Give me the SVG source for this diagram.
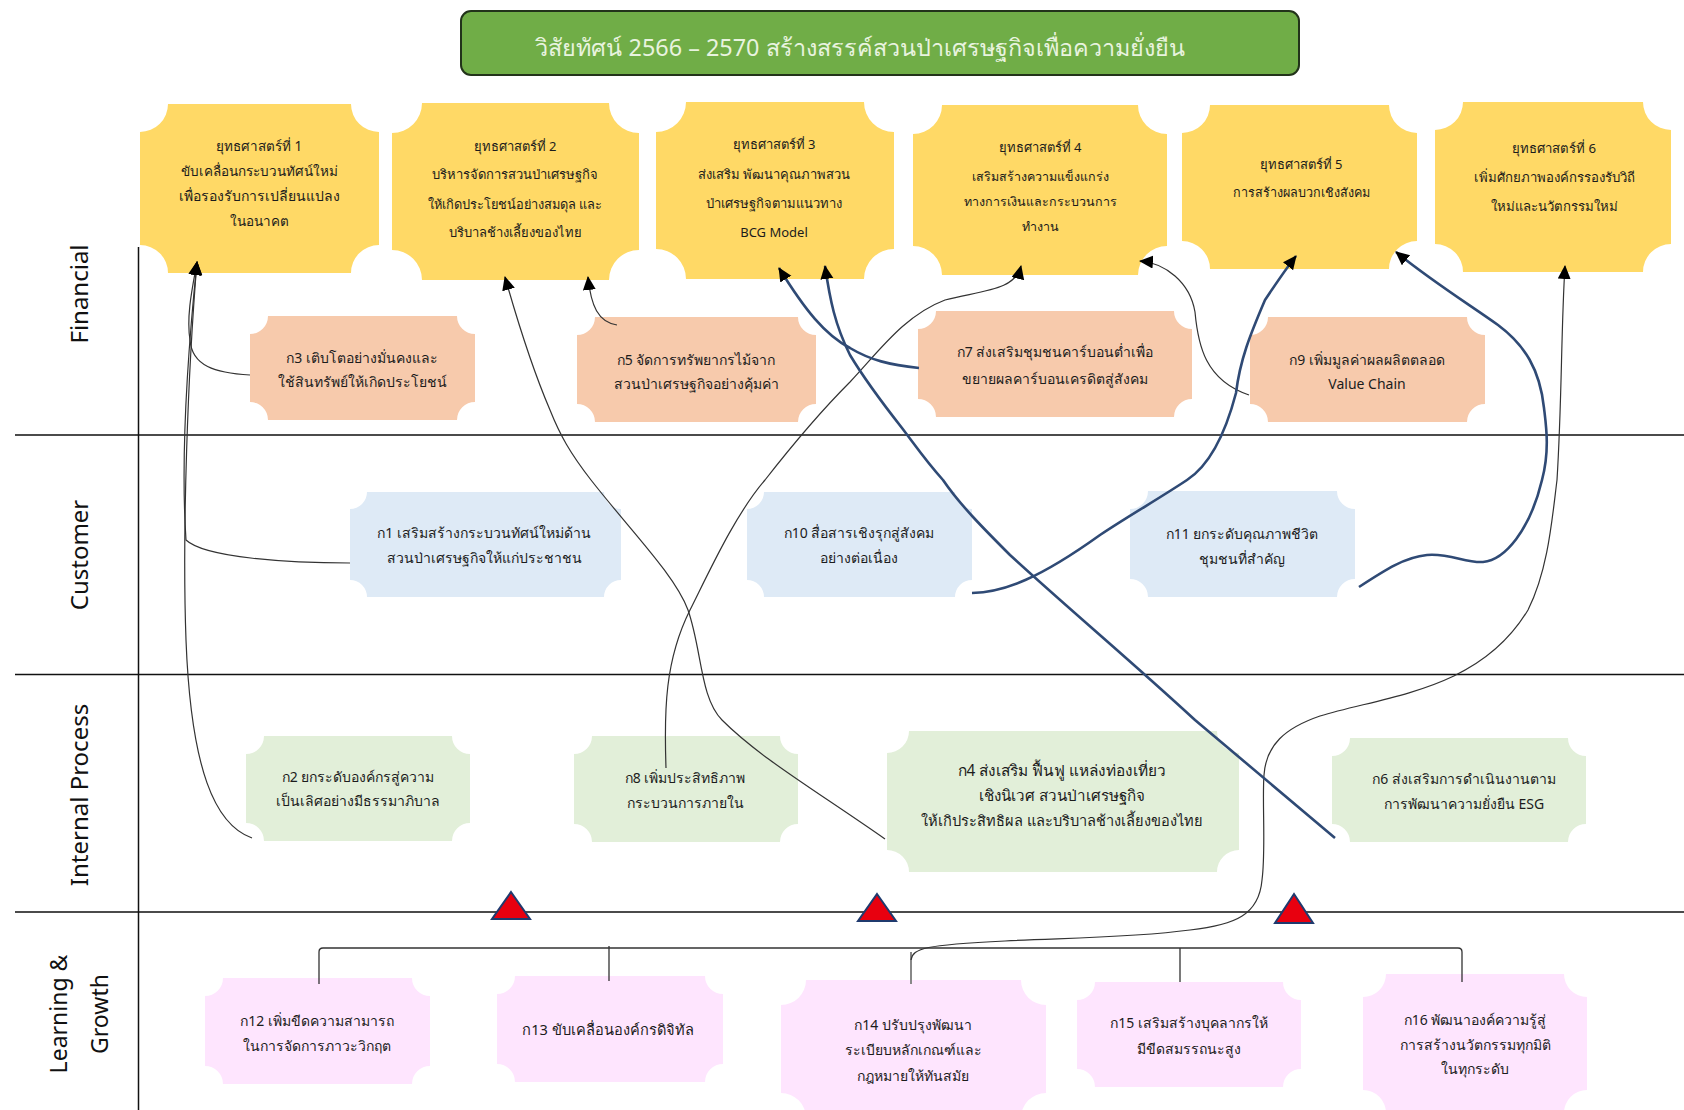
<svg xmlns="http://www.w3.org/2000/svg" width="1684" height="1110" viewBox="0 0 1684 1110">
<style>
text{font-family:"Noto Sans","Liberation Sans","DejaVu Sans",sans-serif;fill:#1c1c1c;text-anchor:middle}
.t{font-size:14px}
.band{font-size:24px;fill:#111}
.title{font-size:23.4px;fill:#e8f3df}
.s{fill:#FFD966}.p{fill:#F7CAAC}.b{fill:#DEEAF6}.g{fill:#E2EFD9}.m{fill:#FEE5FE}
.axis{stroke:#111;stroke-width:1.5;fill:none}
.thin{stroke:#333;stroke-width:1.2;fill:none;marker-end:url(#ah)}
.thick{stroke:#2F4A75;stroke-width:2.6;fill:none;marker-end:url(#ah2)}
.tree{stroke:#333;stroke-width:1.3;fill:none}
.tri{fill:#E8000F;stroke:#1F3A6E;stroke-width:2}
</style>
<defs>
<marker id="ah" markerUnits="userSpaceOnUse" markerWidth="16" markerHeight="14" refX="13" refY="6.5" orient="auto"><path d="M0 0L14 6.5L0 13Z" fill="#000"/></marker>
<marker id="ah2" markerUnits="userSpaceOnUse" markerWidth="16" markerHeight="14" refX="13" refY="6.5" orient="auto"><path d="M0 0L14 6.5L0 13Z" fill="#000"/></marker>
</defs>
<g id="axes">
<path class="axis" d="M15 435H1684M15 674.5H1684M15 912H1684M138.5 247V1110"/>
</g>
<g id="bands">
<text class="band" transform="translate(88 294) rotate(-90)">Financial</text>
<text class="band" transform="translate(88 555) rotate(-90)">Customer</text>
<text class="band" transform="translate(88 795) rotate(-90)">Internal Process</text>
<text class="band" style="font-size:23px" transform="translate(67 1014) rotate(-90)">Learning &amp;</text>
<text class="band" style="font-size:23px" transform="translate(108 1014) rotate(-90)">Growth</text>
</g>
<g id="title">
<rect x="461" y="11" width="838" height="64" rx="10" fill="#70AD47" stroke="#22331a" stroke-width="2"/>
<text class="title" x="860" y="56">วิสัยทัศน์ 2566 – 2570 สร้างสรรค์สวนป่าเศรษฐกิจเพื่อความยั่งยืน</text>
</g>
<g id="S1"><path class="s" d="M168 104H351A28 28 0 0 0 379 132V245A28 28 0 0 0 351 273H168A28 28 0 0 0 140 245V132A28 28 0 0 0 168 104Z"/>
<text style="font-size:13.5px" x="259" y="151">ยุทธศาสตร์ที่ 1</text><text style="font-size:13.5px" x="259" y="176">ขับเคลื่อนกระบวนทัศน์ใหม่</text><text style="font-size:14px" x="259" y="201">เพื่อรองรับการเปลี่ยนแปลง</text><text style="font-size:13.5px" x="259" y="226">ในอนาคต</text></g>
<g id="S2"><path class="s" d="M422 103H609A30 30 0 0 0 639 133V250A30 30 0 0 0 609 280H422A30 30 0 0 0 392 250V133A30 30 0 0 0 422 103Z"/>
<text style="font-size:13px" x="515" y="151">ยุทธศาสตร์ที่ 2</text><text style="font-size:13px" x="515" y="179">บริหารจัดการสวนป่าเศรษฐกิจ</text><text style="font-size:12.8px" x="515" y="209">ให้เกิดประโยชน์อย่างสมดุล และ</text><text style="font-size:13px" x="515" y="237">บริบาลช้างเลี้ยงของไทย</text></g>
<g id="S3"><path class="s" d="M686 102H864A30 30 0 0 0 894 132V249A30 30 0 0 0 864 279H686A30 30 0 0 0 656 249V132A30 30 0 0 0 686 102Z"/>
<text style="font-size:13px" x="774" y="149">ยุทธศาสตร์ที่ 3</text><text style="font-size:13px" x="774" y="179">ส่งเสริม พัฒนาคุณภาพสวน</text><text style="font-size:13px" x="774" y="208">ป่าเศรษฐกิจตามแนวทาง</text><text style="font-size:13px" x="774" y="237">BCG Model</text></g>
<g id="S4"><path class="s" d="M942 105H1138A29 29 0 0 0 1167 134V246A29 29 0 0 0 1138 275H942A29 29 0 0 0 913 246V134A29 29 0 0 0 942 105Z"/>
<text style="font-size:13px" x="1040" y="152">ยุทธศาสตร์ที่ 4</text><text style="font-size:12.5px" x="1040" y="181">เสริมสร้างความแข็งแกร่ง</text><text style="font-size:12.5px" x="1040" y="206">ทางการเงินและกระบวนการ</text><text style="font-size:12.5px" x="1040" y="231">ทำงาน</text></g>
<g id="S5"><path class="s" d="M1210 105H1389A28 28 0 0 0 1417 133V241A28 28 0 0 0 1389 269H1210A28 28 0 0 0 1182 241V133A28 28 0 0 0 1210 105Z"/>
<text style="font-size:13px" x="1301" y="169">ยุทธศาสตร์ที่ 5</text><text style="font-size:12.6px" x="1301" y="197">การสร้างผลบวกเชิงสังคม</text></g>
<g id="S6"><path class="s" d="M1463 102H1643A28 28 0 0 0 1671 130V244A28 28 0 0 0 1643 272H1463A28 28 0 0 0 1435 244V130A28 28 0 0 0 1463 102Z"/>
<text style="font-size:13.2px" x="1554" y="153">ยุทธศาสตร์ที่ 6</text><text style="font-size:13.2px" x="1554" y="182">เพิ่มศักยภาพองค์กรรองรับวิถี</text><text style="font-size:13.2px" x="1554" y="211">ใหม่และนวัตกรรมใหม่</text></g>
<g id="n3"><path class="p" d="M268 316H457A18 18 0 0 0 475 334V402A18 18 0 0 0 457 420H268A18 18 0 0 0 250 402V334A18 18 0 0 0 268 316Z"/>
<text class="t" x="362" y="363">ก3 เติบโตอย่างมั่นคงและ</text><text class="t" x="362" y="387">ใช้สินทรัพย์ให้เกิดประโยชน์</text></g>
<g id="n5"><path class="p" d="M595 317H798A18 18 0 0 0 816 335V404A18 18 0 0 0 798 422H595A18 18 0 0 0 577 404V335A18 18 0 0 0 595 317Z"/>
<text class="t" x="696" y="365">ก5 จัดการทรัพยากรไม้จาก</text><text class="t" x="696" y="389">สวนป่าเศรษฐกิจอย่างคุ้มค่า</text></g>
<g id="n7"><path class="p" d="M936 311H1174A18 18 0 0 0 1192 329V399A18 18 0 0 0 1174 417H936A18 18 0 0 0 918 399V329A18 18 0 0 0 936 311Z"/>
<text class="t" x="1055" y="357">ก7 ส่งเสริมชุมชนคาร์บอนต่ำเพื่อ</text><text class="t" x="1055" y="384">ขยายผลคาร์บอนเครดิตสู่สังคม</text></g>
<g id="n9"><path class="p" d="M1268 317H1467A18 18 0 0 0 1485 335V404A18 18 0 0 0 1467 422H1268A18 18 0 0 0 1250 404V335A18 18 0 0 0 1268 317Z"/>
<text class="t" x="1367" y="365">ก9 เพิ่มมูลค่าผลผลิตตลอด</text><text class="t" x="1367" y="389">Value Chain</text></g>
<g id="n1"><path class="b" d="M367 492H604A17 17 0 0 0 621 509V580A17 17 0 0 0 604 597H367A17 17 0 0 0 350 580V509A17 17 0 0 0 367 492Z"/>
<text class="t" x="484" y="538">ก1 เสริมสร้างกระบวนทัศน์ใหม่ด้าน</text><text class="t" x="484" y="563">สวนป่าเศรษฐกิจให้แก่ประชาชน</text></g>
<g id="n10"><path class="b" d="M764 492H955A17 17 0 0 0 972 509V580A17 17 0 0 0 955 597H764A17 17 0 0 0 747 580V509A17 17 0 0 0 764 492Z"/>
<text class="t" x="859" y="538">ก10 สื่อสารเชิงรุกสู่สังคม</text><text class="t" x="859" y="563">อย่างต่อเนื่อง</text></g>
<g id="n11"><path class="b" d="M1148 491H1337A18 18 0 0 0 1355 509V579A18 18 0 0 0 1337 597H1148A18 18 0 0 0 1130 579V509A18 18 0 0 0 1148 491Z"/>
<text class="t" x="1242" y="539">ก11 ยกระดับคุณภาพชีวิต</text><text class="t" x="1242" y="564">ชุมชนที่สำคัญ</text></g>
<g id="n2"><path class="g" d="M264 736H452A18 18 0 0 0 470 754V823A18 18 0 0 0 452 841H264A18 18 0 0 0 246 823V754A18 18 0 0 0 264 736Z"/>
<text class="t" x="358" y="782">ก2 ยกระดับองค์กรสู่ความ</text><text class="t" x="358" y="806">เป็นเลิศอย่างมีธรรมาภิบาล</text></g>
<g id="n8"><path class="g" d="M592 736H780A18 18 0 0 0 798 754V824A18 18 0 0 0 780 842H592A18 18 0 0 0 574 824V754A18 18 0 0 0 592 736Z"/>
<text class="t" x="685" y="783">ก8 เพิ่มประสิทธิภาพ</text><text class="t" x="685" y="808">กระบวนการภายใน</text></g>
<g id="n4"><path class="g" d="M909 731H1217A22 22 0 0 0 1239 753V850A22 22 0 0 0 1217 872H909A22 22 0 0 0 887 850V753A22 22 0 0 0 909 731Z"/>
<text style="font-size:15.4px" x="1062" y="776">ก4 ส่งเสริม ฟื้นฟู แหล่งท่องเที่ยว</text><text style="font-size:15.2px" x="1062" y="801">เชิงนิเวศ สวนป่าเศรษฐกิจ</text><text style="font-size:14.6px" x="1062" y="826">ให้เกิประสิทธิผล และบริบาลช้างเลี้ยงของไทย</text></g>
<g id="n6"><path class="g" d="M1350 738H1568A18 18 0 0 0 1586 756V824A18 18 0 0 0 1568 842H1350A18 18 0 0 0 1332 824V756A18 18 0 0 0 1350 738Z"/>
<text class="t" x="1464" y="784">ก6 ส่งเสริมการดำเนินงานตาม</text><text class="t" x="1464" y="809">การพัฒนาความยั่งยืน ESG</text></g>
<g id="n12"><path class="m" d="M223 978H412A18 18 0 0 0 430 996V1066A18 18 0 0 0 412 1084H223A18 18 0 0 0 205 1066V996A18 18 0 0 0 223 978Z"/>
<text class="t" x="317" y="1026">ก12 เพิ่มขีดความสามารถ</text><text class="t" x="317" y="1051">ในการจัดการภาวะวิกฤต</text></g>
<g id="n13"><path class="m" d="M515 976H705A18 18 0 0 0 723 994V1064A18 18 0 0 0 705 1082H515A18 18 0 0 0 497 1064V994A18 18 0 0 0 515 976Z"/>
<text style="font-size:14.6px" x="608" y="1035">ก13 ขับเคลื่อนองค์กรดิจิทัล</text></g>
<g id="n14"><path class="m" d="M806 980H1021A25 25 0 0 0 1046 1005V1093A25 25 0 0 0 1021 1118H806A25 25 0 0 0 781 1093V1005A25 25 0 0 0 806 980Z"/>
<text class="t" x="913" y="1030">ก14 ปรับปรุงพัฒนา</text><text class="t" x="913" y="1055">ระเบียบหลักเกณฑ์และ</text><text class="t" x="913" y="1081">กฎหมายให้ทันสมัย</text></g>
<g id="n15"><path class="m" d="M1095 982H1283A18 18 0 0 0 1301 1000V1069A18 18 0 0 0 1283 1087H1095A18 18 0 0 0 1077 1069V1000A18 18 0 0 0 1095 982Z"/>
<text class="t" x="1189" y="1028">ก15 เสริมสร้างบุคลากรให้</text><text class="t" x="1189" y="1054">มีขีดสมรรถนะสูง</text></g>
<g id="n16"><path class="m" d="M1386 974H1564A23 23 0 0 0 1587 997V1090A23 23 0 0 0 1564 1113H1386A23 23 0 0 0 1363 1090V997A23 23 0 0 0 1386 974Z"/>
<text class="t" x="1475" y="1025">ก16 พัฒนาองค์ความรู้สู่</text><text class="t" x="1475" y="1050">การสร้างนวัตกรรมทุกมิติ</text><text class="t" x="1475" y="1074">ในทุกระดับ</text></g>
<g id="connectors">
<path class="tree" d="M319 984V952Q319 948 323 948H1458Q1462 948 1462 952V982M609 946V981M1180 948V982"/>
<path class="tree" style="stroke:#888;stroke-width:2" d="M911 984V952"/>
<path class="thin" d="M250 375C215 373 192 366 190 340C186 315 193 285 197 262"/>
<path class="thin" d="M350 563C290 563 205 558 186 540C180 450 190 330 197 262"/>
<path class="thin" d="M252 838C215 825 191 770 186 640C182 530 188 370 197 262"/>
<path class="thin" d="M885 839C815 790 760 758 722 720C700 698 702 650 688 610C675 575 630 530 591 480C570 453 560 435 550 410C535 375 520 330 505 277"/>
<path class="thin" d="M617 325C598 322 591 306 588 277"/>
<path class="thin" d="M666 768C664 710 665 660 690 610C710 570 735 515 765 480C790 448 820 412 850 382C880 350 905 315 945 300C985 290 1015 290 1021 266"/>
<path class="thin" d="M1249 395C1205 380 1198 345 1195 312C1190 282 1165 263 1140 261"/>
<path class="thin" d="M911 960C913 948 925 945 1005 941C1060 938 1130 938 1190 930C1235 925 1259 915 1262 880C1266 850 1262 800 1264 775C1266 745 1285 728 1320 716C1390 695 1480 690 1528 610C1548 570 1552 520 1557 480C1562 400 1561 330 1565 266"/>
<path class="thick" d="M919 368C890 365 870 360 850 348C825 335 805 310 779 268"/>
<path class="thick" d="M1335 838L1195 720C1130 660 1070 610 1010 555C985 530 960 505 943 480C925 460 915 445 902 428C880 400 865 380 850 355C835 325 830 300 825 266"/>
<path class="thick" d="M972 593C1005 592 1040 578 1100 535C1130 515 1160 498 1187 480C1210 465 1225 435 1236 393C1240 360 1250 335 1265 300C1275 285 1285 270 1296 256"/>
<path class="thick" d="M1359 587C1385 570 1405 557 1427 555C1450 553 1465 563 1483 562C1505 560 1530 530 1542 480C1550 450 1546 425 1544 408C1540 370 1525 345 1498 325C1470 305 1430 280 1396 252"/>
</g>
<g id="markers">
<path class="tri" d="M511 892L530 919H492Z"/>
<path class="tri" d="M877 894L896 921H858Z"/>
<path class="tri" d="M1294 894L1313 923H1275Z"/>
</g>
</svg>
